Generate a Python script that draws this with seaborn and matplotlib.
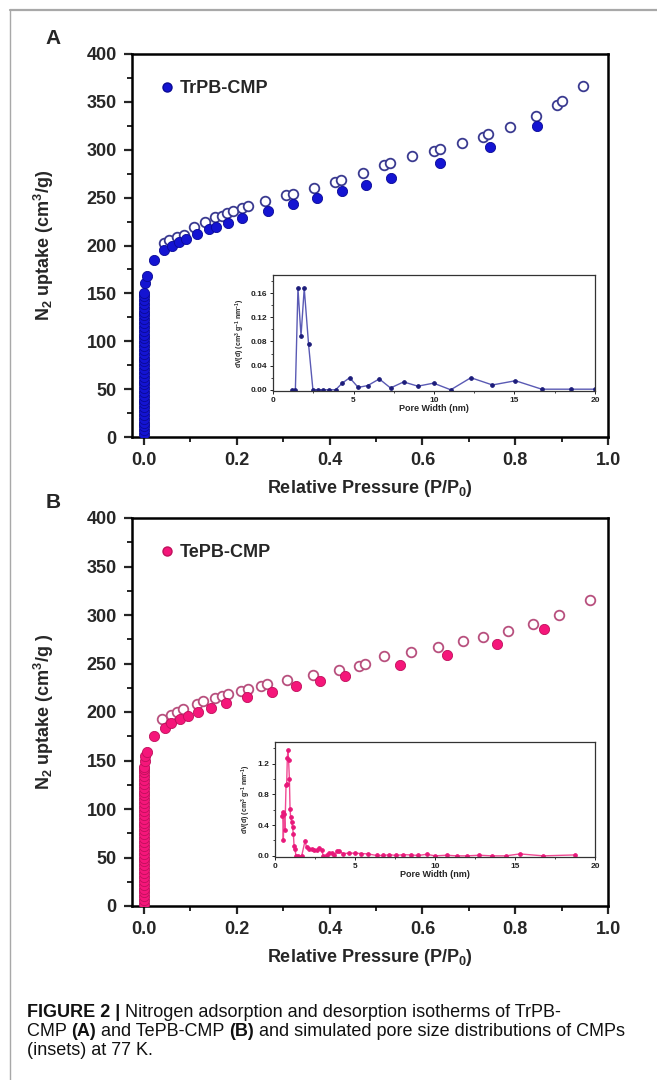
import matplotlib
matplotlib.use('Agg')
import pandas as pd
import matplotlib.pyplot as plt
from matplotlib.lines import Line2D
from matplotlib.ticker import MultipleLocator
import seaborn as sns

# ---- panel A: TrPB-CMP isotherm ----
a_col_y = [3, 7, 11, 15, 19, 23, 27, 31, 35, 39, 43, 47, 51, 55, 59, 63, 67, 71, 75,
           79, 83, 87, 91, 95, 99, 103, 107, 111, 115, 119, 123, 127, 131, 135, 139,
           143, 147, 150]
a_ads_x = [0.003, 0.006, 0.021, 0.043, 0.060, 0.075, 0.090, 0.114, 0.139, 0.155, 0.182,
           0.212, 0.268, 0.320, 0.373, 0.427, 0.479, 0.532, 0.637, 0.745, 0.848]
a_ads_y = [161, 168, 185, 195, 200, 204, 207, 212, 217, 219, 224,
           229, 236, 243, 250, 257, 263, 271, 286, 303, 325]
a_des_x = [0.043, 0.054, 0.071, 0.086, 0.107, 0.131, 0.152, 0.167, 0.178, 0.191, 0.212,
           0.225, 0.260, 0.307, 0.320, 0.367, 0.412, 0.425, 0.472, 0.517, 0.530, 0.577,
           0.624, 0.637, 0.685, 0.730, 0.742, 0.788, 0.845, 0.891, 0.901, 0.946]
a_des_y = [203, 206, 209, 211, 219, 225, 230, 231, 234, 236, 239,
           241, 246, 253, 254, 260, 266, 268, 276, 284, 286, 293,
           299, 301, 307, 313, 316, 324, 335, 347, 351, 367]

# inset A: pore size distribution
a_pw = [1.18, 1.39, 1.55, 1.74, 1.94, 2.21, 2.48, 2.77, 3.10, 3.47, 3.89, 4.30, 4.76,
        5.29, 5.89, 6.60, 7.30, 8.11, 9.00, 9.97, 11.04, 12.29, 13.63, 15.06, 16.69,
        18.51, 20.0]
a_dv = [0.000, 0.000, 0.168, 0.089, 0.168, 0.075, 0.000, 0.000, 0.000, 0.000, 0.000,
        0.011, 0.020, 0.004, 0.007, 0.018, 0.003, 0.013, 0.006, 0.011, 0.000, 0.020,
        0.008, 0.015, 0.001, 0.001, 0.001]

# ---- panel B: TePB-CMP isotherm ----
b_col_y = [2, 6, 10, 14, 18, 22, 26, 30, 34, 38, 42, 46, 50, 54, 58, 62, 66, 70, 74,
           78, 82, 86, 90, 94, 98, 102, 106, 110, 114, 118, 122, 126, 130, 134, 138,
           141, 143]
b_ads_x = [0.001, 0.003, 0.006, 0.021, 0.045, 0.058, 0.077, 0.094, 0.116, 0.144, 0.176,
           0.221, 0.275, 0.328, 0.380, 0.434, 0.552, 0.654, 0.760, 0.863]
b_ads_y = [150, 155, 159, 175, 184, 189, 193, 196, 200, 204, 209,
           215, 221, 227, 232, 237, 248, 259, 270, 286]
b_des_x = [0.039, 0.057, 0.071, 0.083, 0.114, 0.126, 0.153, 0.169, 0.180, 0.210, 0.225,
           0.253, 0.266, 0.309, 0.365, 0.421, 0.464, 0.476, 0.517, 0.575, 0.633, 0.687,
           0.730, 0.785, 0.839, 0.895, 0.961]
b_des_y = [193, 197, 200, 203, 208, 211, 214, 217, 219, 222, 224,
           227, 229, 233, 238, 243, 247, 250, 258, 262, 267, 273,
           277, 284, 291, 300, 315]

# inset B: pore size distribution
b_pw = [0.42, 0.48, 0.52, 0.56, 0.62, 0.69, 0.73, 0.77, 0.81, 0.85, 0.90, 0.94, 0.98,
        1.04, 1.10, 1.15, 1.19, 1.25, 1.31, 1.46, 1.67, 1.87, 1.98, 2.15, 2.29, 2.46,
        2.60, 2.77, 2.92, 3.02, 3.23, 3.40, 3.54, 3.69, 3.90, 4.02, 4.27, 4.60, 5.00,
        5.40, 5.80, 6.35, 6.77, 7.15, 7.56, 8.02, 8.48, 8.96, 9.48, 10.0, 10.73, 11.35,
        11.98, 12.77, 13.54, 14.42, 15.31, 16.77, 18.75]
b_dv = [0.52, 0.57, 0.20, 0.55, 0.33, 0.92, 0.94, 1.27, 1.38, 1.24, 1.00, 0.61, 0.50,
        0.44, 0.37, 0.28, 0.13, 0.09, 0.00, 0.00, 0.00, 0.19, 0.11, 0.09, 0.09, 0.07,
        0.07, 0.10, 0.07, 0.00, 0.01, 0.035, 0.035, 0.01, 0.057, 0.057, 0.03, 0.035, 0.035,
        0.03, 0.025, 0.005, 0.005, 0.015, 0.005, 0.015, 0.012, 0.005, 0.02, 0.0, 0.008,
        0.0, 0.0, 0.008, 0.0, 0.0, 0.025, 0.0, 0.012]

# caption pieces: (text, weight) per line
caption_lines = [
    [('FIGURE 2 |', 'bold'), (' Nitrogen adsorption and desorption isotherms of TrPB-', 'normal')],
    [('CMP ', 'normal'), ('(A)', 'bold'), (' and TePB-CMP ', 'normal'), ('(B)', 'bold'),
     (' and simulated pore size distributions of CMPs', 'normal')],
    [('(insets) at 77 K.', 'normal')],
]

sns.set_style('ticks')
plt.rcParams['font.family'] = ['Liberation Sans', 'DejaVu Sans']
plt.rcParams['font.weight'] = 'bold'
plt.rcParams['axes.labelweight'] = 'bold'
plt.rcParams['mathtext.fontset'] = 'custom'
plt.rcParams['mathtext.rm'] = 'Liberation Sans:bold'
plt.rcParams['mathtext.bf'] = 'Liberation Sans:bold'
plt.rcParams['mathtext.default'] = 'bf'

W, H = 657, 1080
fig = plt.figure(figsize=(W / 100, H / 100), dpi=100)


def box(x0, y0, x1, y1):
    return [x0 / W, 1 - y1 / H, (x1 - x0) / W, (y1 - y0) / H]


def main_panel(rect, col_y, ads_x, ads_y, des_x, des_y, fill, fedge, oedge, name, ylab):
    ax = fig.add_axes(rect)
    ads = pd.DataFrame({'x': [0.0] * len(col_y) + ads_x, 'y': col_y + ads_y})
    des = pd.DataFrame({'x': des_x, 'y': des_y})
    sns.scatterplot(data=des, x='x', y='y', ax=ax, marker='o', s=48,
                    facecolor='white', edgecolor=oedge, linewidth=1.3, zorder=3)
    sns.scatterplot(data=ads, x='x', y='y', ax=ax, marker='o', s=54,
                    color=fill, edgecolor=fedge, linewidth=0.6, zorder=4)
    ax.set_xlim(-0.026, 1.0)
    ax.set_ylim(0, 400)
    ax.xaxis.set_major_locator(MultipleLocator(0.2))
    ax.xaxis.set_minor_locator(MultipleLocator(0.1))
    ax.yaxis.set_major_locator(MultipleLocator(50))
    ax.yaxis.set_minor_locator(MultipleLocator(25))
    ax.xaxis.set_major_formatter(lambda v, p: f'{v:.1f}')
    ax.tick_params(which='major', length=6, width=1.6, labelsize=13, pad=5)
    ax.tick_params(which='minor', length=3.5, width=1.4)
    for sp in ax.spines.values():
        sp.set_linewidth(1.8)
        sp.set_color('black')
    ax.set_xlabel(r'Relative Pressure (P/P$_0$)', fontsize=13, labelpad=6)
    ax.set_ylabel(ylab, fontsize=13, labelpad=22)
    handle = Line2D([], [], marker='o', ls='none', markersize=6.5,
                    markerfacecolor=fill, markeredgecolor=fedge)
    ax.legend([handle], [name], loc='upper left', bbox_to_anchor=(0.02, 0.975),
              frameon=False, handletextpad=0.2, handlelength=1.0,
              prop={'size': 13, 'weight': 'bold'})
    return ax


def inset(rect, pw, dv, line_c, mark_c, ylim, ystep, ymfmt):
    ax = fig.add_axes(rect)
    df = pd.DataFrame({'w': pw, 'dv': dv})
    sns.lineplot(data=df, x='w', y='dv', ax=ax, color=line_c, lw=1.0,
                 marker='o', markersize=2.6, markerfacecolor=mark_c,
                 markeredgecolor=mark_c)
    ax.set_xlim(0, 20)
    ax.set_ylim(*ylim)
    ax.xaxis.set_major_locator(MultipleLocator(5))
    ax.xaxis.set_minor_locator(MultipleLocator(2.5))
    ax.yaxis.set_major_locator(MultipleLocator(ystep))
    ax.yaxis.set_minor_locator(MultipleLocator(ystep / 2))
    ax.yaxis.set_major_formatter(lambda v, p: ymfmt.format(v))
    ax.tick_params(which='major', length=2.5, width=0.7, labelsize=6, pad=1.5,
                   colors='#222222')
    ax.tick_params(which='minor', length=1.5, width=0.6)
    for sp in ax.spines.values():
        sp.set_linewidth(0.9)
        sp.set_color('#333333')
    ax.set_xlabel('Pore Width (nm)', fontsize=6.5, labelpad=0.5)
    ax.set_ylabel(r'dV(d) (cm$^3$ g$^{-1}$ nm$^{-1}$)', fontsize=5, labelpad=3)
    return ax


main_panel(box(132, 54, 608, 437), a_col_y, a_ads_x, a_ads_y, a_des_x, a_des_y,
           '#1414d2', '#0a0a96', '#3a3a90', 'TrPB-CMP',
           r'N$_2$ uptake (cm$^3$/g)')
inset(box(273, 275, 595, 391), a_pw, a_dv, '#5a5ab4', '#1c1c7a',
      (-0.002, 0.19), 0.04, '{:.2f}')

main_panel(box(132, 518, 608, 906), b_col_y, b_ads_x, b_ads_y, b_des_x, b_des_y,
           '#f5167a', '#c0105c', '#b8507e', 'TePB-CMP',
           r'N$_2$ uptake (cm$^3$/g )')
inset(box(275, 742, 595, 857), b_pw, b_dv, '#f04a94', '#e8187a',
      (-0.015, 1.48), 0.4, '{:.1f}')

# panel letters
fig.text(53 / W, 1 - 38 / H, 'A', fontsize=15, ha='center', va='center')
fig.text(53 / W, 1 - 503 / H, 'B', fontsize=15, ha='center', va='center')

# page frame
fig.add_artist(Line2D([10 / W, 1], [1 - 10 / H] * 2, transform=fig.transFigure,
                      color='#a8a8a8', lw=1.6))
fig.add_artist(Line2D([10 / W] * 2, [0, 1 - 10 / H], transform=fig.transFigure,
                      color='#a8a8a8', lw=1.0))

# caption: lay out the mixed-weight pieces one after another
renderer = fig.canvas.get_renderer()
for i, parts in enumerate(caption_lines):
    x = 27
    y = 1 - (1017 + i * 19) / H
    for txt, wt in parts:
        t = fig.text(x / W, y, txt, ha='left', va='baseline', fontsize=13,
                     fontweight=wt, color='#111111')
        x += t.get_window_extent(renderer=renderer).width

fig.savefig('out.png', dpi=100)
